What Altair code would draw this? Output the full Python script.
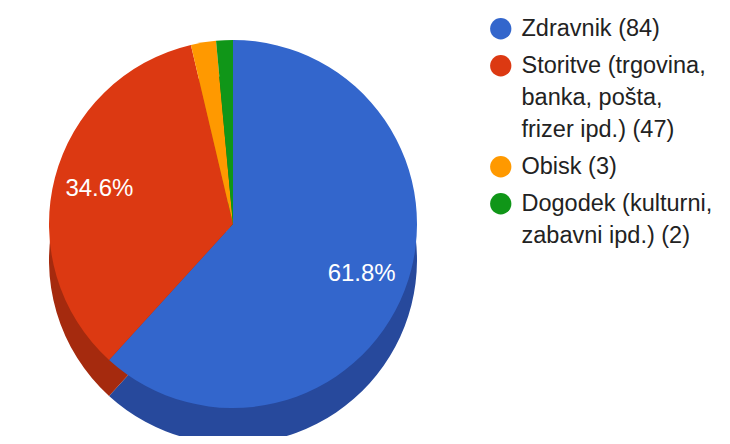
import altair as alt
import pandas as pd

categories = ["Zdravnik", "Storitve (trgovina, banka, pošta, frizer ipd.)", "Obisk", "Dogodek (kulturni, zabavni ipd.)"]
counts = [84, 47, 3, 2]
legend_labels = ["Zdravnik (84)", "Storitve (trgovina,|banka, pošta,|frizer ipd.) (47)", "Obisk (3)", "Dogodek (kulturni,|zabavni ipd.) (2)"]

top_colors = ["#3366cc", "#dc3912", "#ff9900", "#109618"]
side_colors = ["#27499c", "#a52a0e", "#b86e00", "#0b6b11"]

total = sum(counts)
df = pd.DataFrame({
    "idx": list(range(len(categories))),
    "category": categories,
    "label": legend_labels,
    "count": counts,
})
df["pct"] = [f"{c / total * 100:.1f}%" if c / total >= 0.05 else "" for c in counts]

CX, CY, R, DEPTH = 225, 216, 184, 36

base = alt.Chart(df)

side = base.mark_arc(outerRadius=R).encode(
    theta=alt.Theta("count:Q", stack=True),
    order=alt.Order("idx:Q"),
    color=alt.Color("label:N", scale=alt.Scale(domain=legend_labels, range=side_colors), legend=None),
    x=alt.value(CX), y=alt.value(CY + DEPTH),
)

top = base.mark_arc(outerRadius=R).encode(
    theta=alt.Theta("count:Q", stack=True),
    order=alt.Order("idx:Q"),
    color=alt.Color(
        "label:N",
        scale=alt.Scale(domain=legend_labels, range=top_colors),
        legend=alt.Legend(
            title=None, orient="none", legendX=481, legendY=9,
            labelExpr="split(datum.label, '|')",
            symbolType="circle", symbolSize=452, symbolStrokeWidth=0,
            labelFont="Liberation Sans", labelFontSize=23.5, labelColor="#222222",
            labelLimit=300, rowPadding=12, labelOffset=9,
        ),
    ),
    x=alt.value(CX), y=alt.value(CY),
)

text = base.mark_text(font="Liberation Sans", fontSize=24, color="white").encode(
    theta=alt.Theta("count:Q", stack=True),
    order=alt.Order("idx:Q"),
    text="pct:N",
    radius=alt.value(138),
    x=alt.value(CX), y=alt.value(CY),
)

chart = alt.layer(side, top, text).resolve_scale(color="independent").properties(
    width=714, height=428, autosize=alt.AutoSizeParams(type="none"), padding=0
).configure(
    style={"guide-label": {"lineHeight": 32}},
    view=alt.ViewConfig(stroke=None),
)

chart.save("out.html", embed_options={"renderer": "svg", "actions": False})
